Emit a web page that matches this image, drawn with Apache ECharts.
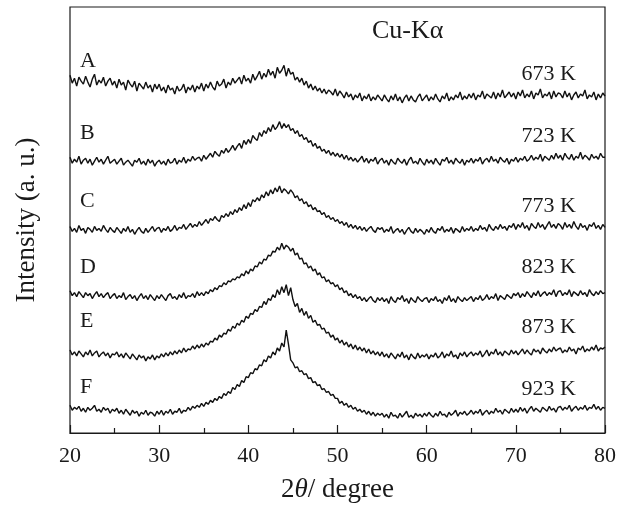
<!DOCTYPE html>
<html>
<head>
<meta charset="utf-8">
<script src="https://cdn.jsdelivr.net/npm/echarts@6/dist/echarts.min.js"></script>
<style>html,body{margin:0;padding:0;background:#fff}#c{width:628px;height:508px}</style>
</head>
<body>
<div id="c"></div>
<script>
// 2theta sampling positions (degrees)
var twoTheta = [
20,20.25,20.5,20.75,21,21.25,21.5,21.75,22,22.25,22.5,22.75,23,23.25,23.5,23.75,24,24.25,24.5,24.75,
25,25.25,25.5,25.75,26,26.25,26.5,26.75,27,27.25,27.5,27.75,28,28.25,28.5,28.75,29,29.25,29.5,29.75,
30,30.25,30.5,30.75,31,31.25,31.5,31.75,32,32.25,32.5,32.75,33,33.25,33.5,33.75,34,34.25,34.5,34.75,
35,35.25,35.5,35.75,36,36.25,36.5,36.75,37,37.25,37.5,37.75,38,38.25,38.5,38.75,39,39.25,39.5,39.75,
40,40.25,40.5,40.75,41,41.25,41.5,41.75,42,42.25,42.5,42.75,43,43.25,43.5,43.75,44,44.25,44.5,44.75,
45,45.25,45.5,45.75,46,46.25,46.5,46.75,47,47.25,47.5,47.75,48,48.25,48.5,48.75,49,49.25,49.5,49.75,
50,50.25,50.5,50.75,51,51.25,51.5,51.75,52,52.25,52.5,52.75,53,53.25,53.5,53.75,54,54.25,54.5,54.75,
55,55.25,55.5,55.75,56,56.25,56.5,56.75,57,57.25,57.5,57.75,58,58.25,58.5,58.75,59,59.25,59.5,59.75,
60,60.25,60.5,60.75,61,61.25,61.5,61.75,62,62.25,62.5,62.75,63,63.25,63.5,63.75,64,64.25,64.5,64.75,
65,65.25,65.5,65.75,66,66.25,66.5,66.75,67,67.25,67.5,67.75,68,68.25,68.5,68.75,69,69.25,69.5,69.75,
70,70.25,70.5,70.75,71,71.25,71.5,71.75,72,72.25,72.5,72.75,73,73.25,73.5,73.75,74,74.25,74.5,74.75,
75,75.25,75.5,75.75,76,76.25,76.5,76.75,77,77.25,77.5,77.75,78,78.25,78.5,78.75,79,79.25,79.5,79.75,
80];

// Intensity (a.u., curves stacked with offsets)
var curveA = [
362,354,359,351,360,356,353,361,355,350,358,363,352,357,354,360,351,356,359,352,
356,349,358,352,355,347,357,353,350,356,346,354,351,348,355,349,352,345,353,348,
353,346,350,344,352,347,349,343,351,346,348,353,344,350,347,352,345,351,348,354,
346,353,349,355,350,347,356,351,353,358,349,355,352,359,354,357,360,353,362,356,
359,354,363,357,361,366,358,364,360,368,362,366,359,370,364,367,372,361,369,363,
365,357,360,355,359,352,356,349,353,347,351,346,349,344,348,343,347,345,342,348,
341,346,343,339,345,340,343,337,342,339,344,336,341,338,343,336,340,337,342,339,
336,342,338,335,341,337,343,336,340,334,339,342,336,341,337,335,340,343,336,339,
342,336,340,337,343,338,335,341,338,344,336,340,337,342,339,345,337,341,338,343,
339,344,337,342,340,346,338,343,341,339,345,338,344,340,347,339,342,345,340,344,
338,345,341,347,339,343,340,346,338,344,342,348,339,343,341,345,338,346,340,344,
343,339,346,340,344,337,342,345,339,343,341,347,338,342,340,345,337,343,339,344,
341];
var curveB = [
279,273,277,274,280,272,276,278,273,277,271,275,279,274,277,272,276,280,273,275,
277,272,275,278,271,274,276,273,270,276,274,278,272,275,271,277,273,276,270,274,
276,272,275,271,277,273,274,278,272,276,274,279,273,277,275,280,276,278,279,275,
281,277,280,283,279,285,282,280,286,283,288,284,287,291,286,290,293,288,296,292,
297,293,301,298,296,304,300,306,303,309,305,312,307,310,315,308,313,309,312,306,
308,303,306,300,302,297,299,294,296,290,293,288,290,285,287,283,286,281,284,280,
283,279,282,277,281,276,279,275,278,274,277,280,274,278,273,277,275,279,272,276,
278,273,276,271,277,274,272,278,275,273,277,271,276,279,273,275,272,278,274,271,
277,273,276,272,278,274,271,277,275,279,273,276,272,278,275,273,277,271,276,274,
278,273,277,275,279,272,276,278,274,280,275,277,273,279,276,274,278,272,277,275,
279,274,278,276,280,275,277,281,276,279,277,282,275,280,278,276,281,277,283,278,
281,276,283,279,277,282,276,280,278,284,277,281,279,276,282,278,280,277,283,279,
279];
var curveC = [
209,204,207,203,210,205,207,202,208,206,203,209,205,207,204,210,206,203,208,205,
203,208,205,202,207,204,209,203,206,201,205,208,204,202,207,203,206,209,204,207,
208,203,207,205,209,204,206,210,205,208,207,211,206,209,212,208,211,209,214,210,
213,216,212,217,215,219,216,214,220,218,222,219,224,221,226,223,228,225,231,227,
233,229,236,234,238,235,241,238,244,240,246,242,248,244,250,243,247,245,242,246,
243,238,240,235,237,232,234,229,231,226,228,224,225,221,223,218,220,216,218,214,
216,212,214,210,213,208,211,207,210,206,209,205,208,204,207,209,205,203,208,206,
208,203,206,204,209,202,205,207,203,206,201,205,208,204,202,207,203,206,204,201,
206,203,208,204,202,207,205,209,203,206,204,208,202,207,205,203,209,204,207,205,
209,204,207,205,210,206,208,204,211,207,205,209,206,211,207,209,205,210,208,212,
206,211,208,213,207,210,205,212,209,207,213,208,211,206,210,214,208,211,207,212,
210,206,213,208,211,207,214,209,206,212,208,210,205,211,209,213,207,210,206,211,
208];
var curveD = [
144,139,142,138,143,140,137,142,139,141,136,140,143,138,141,137,140,142,136,139,
141,136,139,137,142,135,138,140,136,139,134,138,141,136,139,135,140,137,134,139,
136,140,137,134,139,141,136,138,135,140,137,142,136,139,138,141,137,143,139,142,
139,143,141,145,143,147,145,149,148,152,150,154,153,156,155,158,157,161,159,164,
161,166,164,169,168,173,171,176,175,180,179,184,183,188,185,192,186,190,188,184,
187,180,182,176,177,171,172,167,169,164,166,160,162,157,158,153,155,151,152,148,
150,145,147,142,144,139,141,137,140,136,138,134,137,133,136,138,134,132,137,134,
137,133,136,131,138,134,132,137,135,139,133,136,131,137,134,132,138,135,133,136,
137,132,136,134,138,133,135,131,137,134,139,133,136,132,138,135,133,137,134,136,
138,133,137,135,139,134,136,140,135,138,136,141,134,139,137,135,140,138,136,141,
139,142,137,141,138,143,140,137,142,139,144,138,141,143,139,142,140,145,138,143,
144,139,142,140,145,138,143,141,139,144,140,142,138,145,141,139,143,140,144,141,
142];
var curveE = [
84,79,82,78,83,80,77,82,79,84,78,81,83,77,80,82,78,81,76,80,
79,82,77,80,76,81,78,75,80,77,74,79,76,78,73,77,75,79,74,78,
76,80,77,81,78,82,79,83,80,84,81,86,82,85,84,88,85,89,86,90,
87,91,89,93,92,96,94,99,97,101,100,105,103,108,106,111,109,114,112,118,
116,121,120,125,123,128,127,133,130,136,134,140,137,145,140,148,142,150,139,147,
135,128,131,122,126,119,123,116,119,112,114,109,110,105,106,101,102,97,99,94,
96,91,94,89,92,87,90,85,89,84,87,83,86,81,85,80,83,79,82,78,
82,77,80,76,81,78,75,80,77,82,76,79,74,80,77,75,81,76,79,77,
80,75,79,77,81,76,78,82,76,80,78,83,77,79,75,81,78,82,77,80,
82,78,81,79,83,77,80,84,78,82,80,85,79,82,78,83,81,79,84,80,
83,79,82,85,80,84,81,79,85,82,84,80,86,83,81,85,82,87,83,85,
86,81,84,82,87,83,85,80,86,84,88,82,85,83,87,84,89,83,86,85,
87];
var curveF = [
28,23,26,24,27,22,25,21,26,23,25,28,22,24,21,26,23,25,20,24,
22,25,20,23,19,24,21,18,23,20,22,17,21,19,23,18,21,20,17,22,
19,23,18,22,20,24,19,22,21,25,20,23,22,26,23,27,25,28,26,30,
27,31,29,33,31,35,33,37,35,40,38,42,40,46,44,49,47,53,51,57,
56,61,60,65,64,69,68,74,72,78,76,82,79,86,83,91,87,104,90,74,
71,66,67,62,63,59,60,55,56,51,52,48,49,44,45,41,42,38,39,35,
35,30,32,28,30,26,28,24,26,22,24,21,23,19,22,18,21,17,20,18,
20,16,19,15,21,17,18,15,20,16,19,22,16,18,15,20,17,19,16,20,
17,21,18,16,20,17,22,18,19,16,21,18,20,23,17,21,19,22,18,20,
23,19,22,20,24,18,21,23,19,22,20,25,21,23,19,24,22,20,25,21,
24,21,26,22,25,20,24,27,22,25,23,21,26,24,22,27,23,25,21,26,
27,23,26,24,28,22,25,27,23,26,24,28,23,26,25,29,24,27,23,26,
25];

var sampleLetters = ['A','B','C','D','E','F'];
var temperatures = ['673 K','723 K','773 K','823 K','873 K','923 K'];
var xTicks = [20,30,40,50,60,70,80];

var curves = [curveA, curveB, curveC, curveD, curveE, curveF];
var SERIF = "'Liberation Serif','Times New Roman',serif";
var letterY = [62,134,202,268,322,388];
var tempY = [75,137,207,268,328,390];

var series = curves.map(function (c, k) {
  return {
    type: 'line', name: sampleLetters[k], showSymbol: false, symbol: 'none',
    lineStyle: { color: '#111', width: 1.4 },
    data: c.map(function (v, i) { return [twoTheta[i], v]; }),
    z: 3
  };
});

var graphics = [];
sampleLetters.forEach(function (t, k) {
  graphics.push({ type: 'text', left: 80, top: letterY[k] - 12,
    style: { text: t, font: '22px ' + SERIF, fill: '#1a1a1a' } });
});
temperatures.forEach(function (t, k) {
  graphics.push({ type: 'text', right: 628 - 576, top: tempY[k] - 12,
    style: { text: t, font: '22px ' + SERIF, fill: '#1a1a1a' } });
});
graphics.push({ type: 'text', left: 372, top: 18,
  style: { text: 'Cu-K\u03b1', font: '26px ' + SERIF, fill: '#1a1a1a' } });

var chart = echarts.init(document.getElementById('c'));
chart.setOption({
  animation: false,
  backgroundColor: '#fff',
  grid: { left: 70, right: 23, top: 7, bottom: 70, show: true, borderColor: '#1a1a1a', borderWidth: 1.2 },
  xAxis: {
    type: 'value', min: 20, max: 80, interval: 10,
    name: '2{i|\u03b8}/ degree', nameLocation: 'middle', nameGap: 43,
    nameTextStyle: { fontFamily: SERIF, fontSize: 27, color: '#1a1a1a',
      rich: { i: { fontFamily: SERIF, fontSize: 27, fontStyle: 'italic', color: '#1a1a1a' } } },
    axisLine: { lineStyle: { color: '#1a1a1a', width: 1.2 } },
    axisTick: { inside: true, length: 8, lineStyle: { color: '#1a1a1a', width: 1.2 } },
    minorTick: { show: true, splitNumber: 2, length: 5, lineStyle: { color: '#1a1a1a', width: 1.2 } },
    axisLabel: { fontFamily: SERIF, fontSize: 22, color: '#1a1a1a', margin: 12,
      formatter: function (v) { return xTicks.indexOf(v) >= 0 ? String(v) : ''; } },
    splitLine: { show: false }
  },
  yAxis: {
    type: 'value', min: 0, max: 431,
    name: 'Intensity (a. u.)', nameLocation: 'middle', nameGap: 30, nameRotate: 90,
    nameTextStyle: { fontFamily: SERIF, fontSize: 27, color: '#1a1a1a' },
    axisLine: { show: false }, axisTick: { show: false }, axisLabel: { show: false },
    splitLine: { show: false }
  },
  graphic: graphics,
  series: series
});
</script>
</body>
</html>
